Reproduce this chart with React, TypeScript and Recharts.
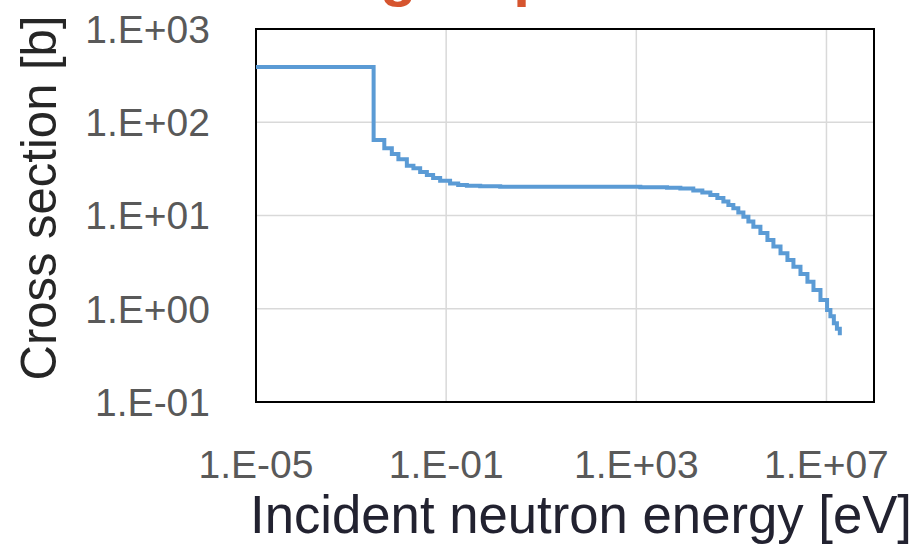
import { LineChart, Line, XAxis, YAxis, CartesianGrid, ReferenceArea } from "recharts";

// group boundaries [eV] and the group-wise cross section [b]
const energy = [
  1e-5, 2.98e-3, 5.0e-3, 7.2e-3, 9.9e-3, 1.49e-2, 2.05e-2, 2.84e-2, 3.93e-2, 5.32e-2, 7.48e-2,
  0.121, 0.179, 0.273, 0.52, 1.37, 15.5, 175, 1215, 4430, 8440,
  1.58e4, 2.45e4, 3.61e4, 5.07e4, 6.79e4, 8.65e4, 1.1e5, 1.4e5, 1.79e5, 2.28e5, 2.9e5,
  4.08e5, 5.73e5, 7.66e5, 1.08e6, 1.51e6, 2.02e6, 2.84e6, 3.98e6, 5.33e6, 7.48e6,
  1.03e7, 1.21e7, 1.43e7, 1.66e7, 1.91e7,
];
const sigma = [
  391, 64.6, 52.6, 45.7, 40.1, 34.2, 32.1, 29.3, 27.2, 25.2, 23.6,
  22.1, 21.3, 20.9, 20.6, 20.4, 20.4, 20.4, 20.1, 19.9, 19.5,
  18.5, 17.6, 16.6, 15.4, 14.1, 12.96, 11.95, 10.77, 9.71, 8.63, 7.59,
  6.49, 5.46, 4.65, 3.93, 3.33, 2.82, 2.36, 1.95, 1.59, 1.24,
  0.97, 0.83, 0.7, 0.61, 0.52,
];
const xTicks = [1e-5, 1e-1, 1e3, 1e7];
const yTicks = [0.1, 1, 10, 100, 1000];

const data = energy.map((e, i) => ({ e, s: sigma[i] }));

const fmt = (v: number) => {
  const p = Math.round(Math.log10(v));
  return `1.E${p < 0 ? "-" : "+"}${String(Math.abs(p)).padStart(2, "0")}`;
};

const tickStyle = { fontFamily: "Liberation Sans", fontSize: 39, fill: "#595959" };

export default function App() {
  return (
    <div style={{ position: "absolute", left: 0, top: 0, width: 919, height: 547, background: "#fff" }}>
      <LineChart width={919} height={547} data={data} margin={{ top: 29, right: 45, bottom: 0, left: 0 }}>
        <CartesianGrid stroke="#d9d9d9" strokeWidth={1.5} />
        <XAxis
          dataKey="e"
          type="number"
          scale="log"
          domain={[1e-5, 1e8]}
          allowDataOverflow
          ticks={xTicks}
          tickFormatter={fmt}
          height={145}
          tickSize={0}
          tickMargin={48}
          axisLine={false}
          tick={tickStyle}
        />
        <YAxis
          type="number"
          scale="log"
          domain={[0.1, 1000]}
          allowDataOverflow
          ticks={yTicks}
          tickFormatter={fmt}
          width={256}
          tickSize={0}
          tickMargin={46}
          axisLine={false}
          tick={tickStyle}
        />
        <ReferenceArea x1={1e-5} x2={1e8} y1={0.1} y2={1000} fill="none" stroke="#000" strokeWidth={2} ifOverflow="visible" />
        <Line
          dataKey="s"
          type="stepAfter"
          stroke="#5B9BD5"
          strokeWidth={4}
          dot={false}
          isAnimationActive={false}
        />
      </LineChart>
      <svg width={919} height={547} style={{ position: "absolute", left: 0, top: 0, pointerEvents: "none" }}>
        {/* title sits above the frame in the source image, only its descenders show */}
        <text x={220} y={-5} fontFamily="Liberation Sans" fontWeight="bold" fontSize={60} fill="#D6552F">
          Multi-group cross section
        </text>
        <text
          x={56}
          y={198}
          transform="rotate(-90, 56, 198)"
          textAnchor="middle"
          fontFamily="Liberation Sans"
          fontSize={50}
          textLength={365}
          lengthAdjust="spacingAndGlyphs"
          fill="#262626"
        >
          Cross section [b]
        </text>
        <text
          x={250}
          y={533}
          fontFamily="Liberation Sans"
          fontSize={53}
          textLength={662}
          lengthAdjust="spacingAndGlyphs"
          fill="#222230"
        >
          Incident neutron energy [eV]
        </text>
      </svg>
    </div>
  );
}
